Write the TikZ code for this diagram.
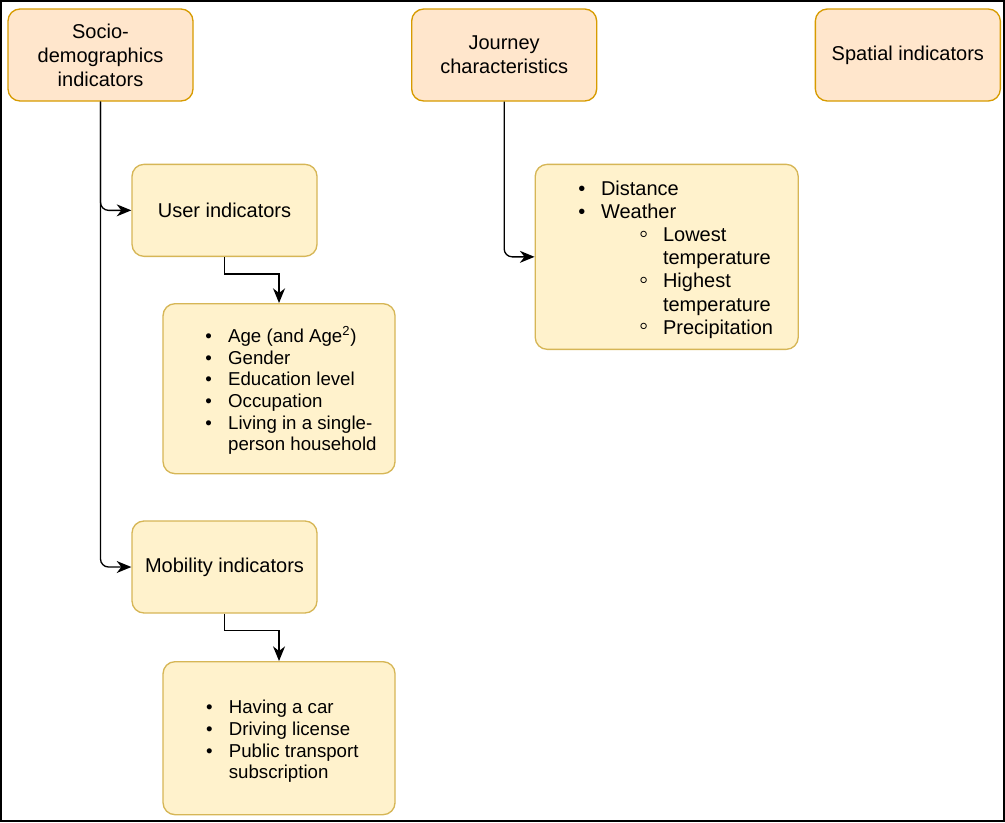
\documentclass[tikz,border=0pt]{standalone}
\usepackage{fontspec}
\setmainfont{Liberation Sans}
\usetikzlibrary{positioning}
\usetikzlibrary{arrows.meta}
\definecolor{mpeach}{HTML}{FFE6CC}
\definecolor{morange}{HTML}{D79B00}
\definecolor{mcream}{HTML}{FFF2CC}
\definecolor{mgold}{HTML}{D6B656}
\newcommand{\bul}{\makebox[17pt][l]{\textbullet}}
\newcommand{\sbul}{\makebox[18pt][l]{\smash{\raisebox{-0.5pt}{\scalebox{1.3}{◦}}}}}
\newcommand{\lowr}{\rule{0pt}{17pt}}

\begin{document}
\begin{tikzpicture}[module/.style={draw, line width=1pt, rounded corners=9pt, align=center, minimum width=138.75pt, minimum height=69pt, font=\fontsize{15}{18}\selectfont},
    category/.style={module, fill=mpeach, draw=morange},
    indicator/.style={module, fill=mcream, draw=mgold},
    arrow/.style={-{Stealth[length=11pt,width=9pt,inset=3.5pt]}, line width=1pt},
    elbow/.style={arrow, rounded corners=6pt},
]
\useasboundingbox (0,0) rectangle (753.75pt,-616.5pt);
\draw[line width=1.5pt] (0.75pt,-0.75pt) rectangle (753pt,-615.75pt);

\node[category] (socio) at (75.375pt,-41.25pt) {Socio-\\demographics\\indicators};
\node[category, right=163pt of socio] (journey) {Journey\\characteristics};
\node[category, right=163pt of journey] (spatial) {Spatial indicators};

\node[indicator, below=46.5pt of socio, xshift=93pt] (user) {User indicators};
\node[indicator, below=34.5pt of user, xshift=40.9pt, minimum width=174pt, minimum height=127.5pt, font=\fontsize{14}{16.2}\selectfont] (userlist) {\begin{tabular}{@{\hspace{18pt}}l@{}}
\lowr\bul Age (and Age\textsuperscript{2})\\
\bul Gender\\
\bul Education level\\
\bul Occupation\\
\bul Living in a single-\\
\hspace{17pt}person household
\end{tabular}};

\node[indicator, below=34.5pt of userlist, xshift=-40.9pt] (mobility) {Mobility indicators};
\node[indicator, below=35.5pt of mobility, xshift=40.9pt, minimum width=174pt, minimum height=114.75pt, font=\fontsize{14}{16.2}\selectfont] (mobilitylist) {\begin{tabular}{@{\hspace{5pt}}l@{}}
\lowr\bul Having a car\\
\bul Driving license\\
\bul Public transport\\
\hspace{17pt}subscription
\end{tabular}};

\node[indicator, below=46.5pt of journey, xshift=121.9pt, minimum width=197.25pt, minimum height=138.75pt, font=\fontsize{15}{17.4}\selectfont] (journeylist) {\begin{tabular}{@{\hspace{13.5pt}}l@{}}
\lowr\bul Distance\\
\bul Weather\\
\hspace{45.5pt}\sbul Lowest\\
\hspace{63.5pt}temperature\\
\hspace{45.5pt}\sbul Highest\\
\hspace{63.5pt}temperature\\
\hspace{45.5pt}\sbul Precipitation
\end{tabular}};

\draw[elbow] (socio) |- (user);
\draw[elbow] (socio) |- (mobility);
\draw[arrow] (user.south) -- ++(0,-12.75pt) -| (userlist.north);
\draw[arrow] (mobility.south) -- ++(0,-12.75pt) -| (mobilitylist.north);
\draw[elbow] (journey) |- (journeylist);

\end{tikzpicture}
\end{document}
